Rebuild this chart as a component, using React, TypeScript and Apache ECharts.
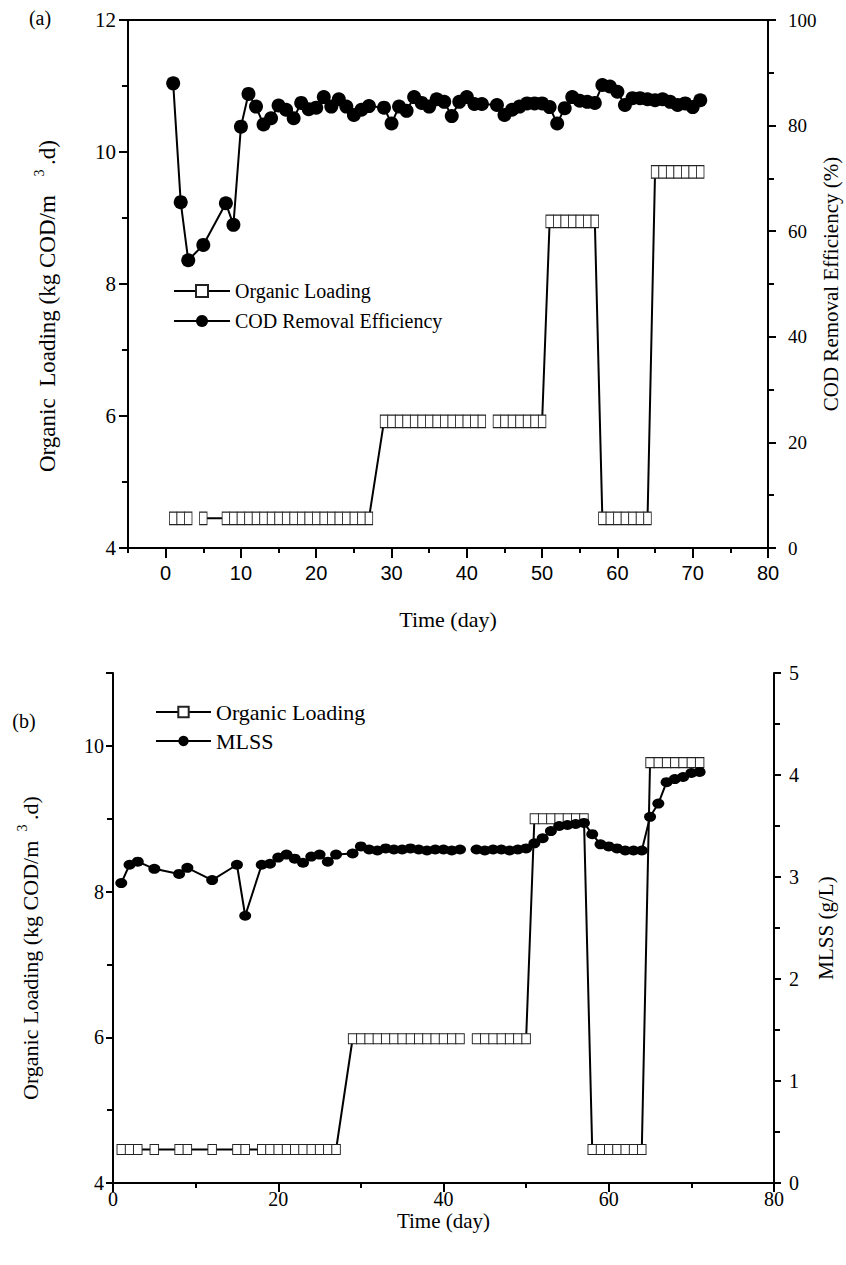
import React, { useEffect, useRef } from 'react';
import * as echarts from 'echarts';

const serif = "'Liberation Serif', 'Times New Roman', serif";
const sans = "'Liberation Sans', Arial, sans-serif";

// ---------- Panel (a) ----------
const loadDaysA = [1, 2, 3, 4, 5, 8, 9, 10, 11, 12, 13, 14, 15, 16, 17, 18, 19, 20, 21, 22, 23, 24, 25, 26, 27,
  29, 30, 31, 32, 33, 34, 35, 36, 37, 38, 39, 40, 41, 42, 43, 44, 45, 46, 47, 48, 49, 50,
  51, 52, 53, 54, 55, 56, 57, 58, 59, 60, 61, 62, 63, 64, 65, 66, 67, 68, 69, 70, 71];
const loadA: (number | null)[] = [4.45, 4.45, 4.45, null, 4.45,
  4.45, 4.45, 4.45, 4.45, 4.45, 4.45, 4.45, 4.45, 4.45, 4.45, 4.45, 4.45, 4.45, 4.45, 4.45, 4.45, 4.45, 4.45, 4.45, 4.45,
  5.92, 5.92, 5.92, 5.92, 5.92, 5.92, 5.92, 5.92, 5.92, 5.92, 5.92, 5.92, 5.92, 5.92, null,
  5.92, 5.92, 5.92, 5.92, 5.92, 5.92, 5.92,
  8.95, 8.95, 8.95, 8.95, 8.95, 8.95, 8.95,
  4.45, 4.45, 4.45, 4.45, 4.45, 4.45, 4.45,
  9.7, 9.7, 9.7, 9.7, 9.7, 9.7, 9.7];

const codDays = [1, 2, 3, 5, 8, 9, 10, 11, 12, 13, 14, 15, 16, 17, 18, 19, 20, 21, 22, 23, 24, 25, 26, 27,
  29, 30, 31, 32, 33, 34, 35, 36, 37, 38, 39, 40, 41, 42,
  44, 45, 46, 47, 48, 49, 50, 51, 52, 53, 54, 55, 56, 57, 58, 59, 60, 61, 62, 63, 64, 65, 66, 67, 68, 69, 70, 71];
const codA = [88.0, 65.5, 54.5, 57.4, 65.3, 61.2,
  79.8, 86.0, 83.6, 80.2, 81.4, 83.8, 83.0, 81.4, 84.3, 83.1, 83.4, 85.4, 83.6, 85.0, 83.6, 82.0, 83.0, 83.7,
  83.4, 80.4, 83.6, 82.8, 85.4, 84.3, 83.6, 85.0, 84.5, 81.8, 84.5, 85.4, 84.1, 84.1,
  83.9, 82.0, 83.0, 83.6, 84.2, 84.2, 84.2,
  83.5, 80.4, 83.3, 85.4, 84.7, 84.5, 84.3,
  87.7, 87.4, 86.4, 83.9, 85.2, 85.2, 85.0,
  84.8, 85.0, 84.5, 83.9, 84.2, 83.5, 84.8];

const xMajorA = [0, 10, 20, 30, 40, 50, 60, 70, 80];

// ---------- Panel (b) ----------
const daysB = [1, 2, 3, 5, 8, 9, 12, 15, 16, 18, 19, 20, 21, 22, 23, 24, 25, 26, 27,
  29, 30, 31, 32, 33, 34, 35, 36, 37, 38, 39, 40, 41, 42, 43,
  44, 45, 46, 47, 48, 49, 50, 51, 52, 53, 54, 55, 56, 57, 58, 59, 60, 61, 62, 63, 64, 65, 66, 67, 68, 69, 70, 71];
const loadB: (number | null)[] = [4.46, 4.46, 4.46, 4.46, 4.46, 4.46, 4.46, 4.46, 4.46,
  4.46, 4.46, 4.46, 4.46, 4.46, 4.46, 4.46, 4.46, 4.46, 4.46,
  5.98, 5.98, 5.98, 5.98, 5.98, 5.98, 5.98, 5.98, 5.98, 5.98, 5.98, 5.98, 5.98, 5.98, null,
  5.98, 5.98, 5.98, 5.98, 5.98, 5.98, 5.98,
  9.0, 9.0, 9.0, 9.0, 9.0, 9.0, 9.0,
  4.46, 4.46, 4.46, 4.46, 4.46, 4.46, 4.46,
  9.77, 9.77, 9.77, 9.77, 9.77, 9.77, 9.77];
const mlssB: (number | null)[] = [2.94, 3.12, 3.15, 3.08, 3.03, 3.09, 2.97, 3.12, 2.62,
  3.12, 3.13, 3.19, 3.22, 3.18, 3.14, 3.2, 3.22, 3.15, 3.22,
  3.23, 3.3, 3.27, 3.26, 3.28, 3.27, 3.27, 3.28, 3.27, 3.26, 3.27, 3.27, 3.26, 3.27, null,
  3.27, 3.26, 3.27, 3.27, 3.26, 3.27, 3.28,
  3.33, 3.38, 3.45, 3.5, 3.51, 3.52, 3.53,
  3.42, 3.32, 3.3, 3.28, 3.26, 3.26, 3.26,
  3.59, 3.72, 3.93, 3.96, 3.98, 4.02, 4.03];

const pairs = (xs: number[], ys: (number | null)[]) =>
  xs.map((x, i) => [x, ys[i] === null ? '-' : ys[i]]);

const legendName = (n: string) =>
  n.startsWith('Organic Loading') ? 'Organic Loading' : n;

const black = '#000';
const axisLine = { show: true, onZero: false, lineStyle: { color: black, width: 2 } };

const txt = (text: string, x: number, y: number, size: number, align: string) => ({
  type: 'text', x, y,
  style: {
    text, fill: black, font: `${size}px ${serif}`,
    align, verticalAlign: 'middle', textAlign: align, textVerticalAlign: 'middle',
  },
});

// rotated title (reads bottom-to-top) built in a group: local x = reading direction, local -y = glyph "up"
const loadTitle = (x: number, y: number, part1: string, size: number, w1: number) => ({
  type: 'group', x, y, rotation: Math.PI / 2,
  children: [
    txt(part1, 0, 0, size, 'left'),
    txt('3', w1 + 22, -8, Math.round(size * 0.62), 'center'),
    txt('.d)', w1 + 30, 0, size, 'left'),
  ],
});

export default function App() {
  const ref = useRef<HTMLDivElement>(null);
  useEffect(() => {
    if (!ref.current) return;
    const chart = echarts.init(ref.current, null, { renderer: 'svg' });
    const option: any = {
      animation: false,
      backgroundColor: '#fff',
      grid: [
        { left: 128, right: 78, top: 20, height: 528, show: true, borderColor: black, borderWidth: 2, backgroundColor: 'transparent' },
        { left: 113, right: 72, top: 673, height: 510 },
      ],
      xAxis: [
        {
          gridIndex: 0, type: 'value', min: -5, max: 80, interval: 5, position: 'bottom',
          axisLine,
          axisTick: { show: true, length: 5, lineStyle: { color: black, width: 2 } },
          axisLabel: {
            color: black, fontFamily: sans, fontSize: 20, margin: 15,
            formatter: (v: number) => (xMajorA.includes(v) ? String(v) : ''),
          },
          splitLine: { show: false },
          name: 'Time (day)', nameLocation: 'middle', nameGap: 60,
          nameTextStyle: { color: black, fontFamily: serif, fontSize: 22 },
        },
        {
          gridIndex: 0, type: 'value', min: -5, max: 80, interval: 5, position: 'bottom',
          axisLine: { show: false, onZero: false },
          axisTick: { show: true, length: 10, customValues: xMajorA, lineStyle: { color: black, width: 2 } },
          axisLabel: { show: false },
          splitLine: { show: false },
        },
        {
          gridIndex: 1, type: 'value', min: 0, max: 80, interval: 20,
          axisLine,
          axisTick: { show: true, length: 9, lineStyle: { color: black, width: 2 } },
          minorTick: { show: true, splitNumber: 2, length: 5, lineStyle: { color: black, width: 2 } },
          axisLabel: { color: black, fontFamily: serif, fontSize: 20, margin: 6 },
          splitLine: { show: false },
          name: 'Time (day)', nameLocation: 'middle', nameGap: 27,
          nameTextStyle: { color: black, fontFamily: serif, fontSize: 21 },
        },
      ],
      yAxis: [
        {
          gridIndex: 0, type: 'value', min: 4, max: 12, interval: 2, position: 'left',
          axisLine,
          axisTick: { show: true, length: 9, lineStyle: { color: black, width: 2 } },
          minorTick: { show: true, splitNumber: 2, length: 6, lineStyle: { color: black, width: 2 } },
          axisLabel: { color: black, fontFamily: serif, fontSize: 21, margin: 12 },
          splitLine: { show: false },
        },
        {
          gridIndex: 0, type: 'value', min: 0, max: 100, interval: 20, position: 'right',
          axisLine,
          axisTick: { show: true, length: 8, lineStyle: { color: black, width: 2 } },
          minorTick: { show: true, splitNumber: 2, length: 6, lineStyle: { color: black, width: 2 } },
          axisLabel: { color: black, fontFamily: serif, fontSize: 19, margin: 20 },
          splitLine: { show: false },
        },
        {
          gridIndex: 1, type: 'value', min: 4, max: 11, interval: 2, position: 'left',
          axisLine,
          axisTick: { show: true, length: 7, lineStyle: { color: black, width: 2 } },
          minorTick: { show: true, splitNumber: 2, length: 6, lineStyle: { color: black, width: 2 } },
          axisLabel: { color: black, fontFamily: serif, fontSize: 20, margin: 9, showMaxLabel: false },
          splitLine: { show: false },
        },
        {
          gridIndex: 1, type: 'value', min: 0, max: 5, interval: 1, position: 'right',
          axisLine,
          axisTick: { show: true, length: 7, lineStyle: { color: black, width: 2 } },
          minorTick: { show: true, splitNumber: 2, length: 6, lineStyle: { color: black, width: 2 } },
          axisLabel: { color: black, fontFamily: serif, fontSize: 20, margin: 15 },
          splitLine: { show: false },
        },
      ],
      legend: [
        {
          data: ['Organic Loading (a)', 'COD Removal Efficiency'],
          orient: 'vertical', left: 168, top: 276, itemWidth: 56, itemHeight: 15, itemGap: 10,
          selectedMode: false, formatter: legendName,
          textStyle: { color: black, fontFamily: serif, fontSize: 20 },
        },
        {
          data: ['Organic Loading (b)', 'MLSS'],
          orient: 'vertical', left: 150, top: 696, itemWidth: 55, itemHeight: 13, itemGap: 7,
          selectedMode: false, formatter: legendName,
          textStyle: { color: black, fontFamily: serif, fontSize: 22 },
        },
      ],
      graphic: [
        txt('(a)', 40, 18, 20, 'center'),
        txt('(b)', 24, 721, 20, 'center'),
        loadTitle(47, 472, 'Organic  Loading (kg COD/m', 23, 277),
        { ...txt('COD Removal Efficiency (%)', 831, 284, 21, 'center'), rotation: Math.PI / 2 },
        loadTitle(30, 1100, 'Organic Loading (kg COD/m', 22, 250),
        { ...txt('MLSS (g/L)', 826, 928, 21, 'center'), rotation: Math.PI / 2 },
      ],
      series: [
        {
          name: 'Organic Loading (a)', type: 'line', xAxisIndex: 0, yAxisIndex: 0,
          data: pairs(loadDaysA, loadA), connectNulls: false, showAllSymbol: true,
          symbol: 'rect', symbolSize: [7.5, 12.5],
          itemStyle: { color: '#fff', borderColor: '#222', borderWidth: 1 },
          lineStyle: { color: black, width: 2 }, z: 2,
        },
        {
          name: 'COD Removal Efficiency', type: 'line', xAxisIndex: 0, yAxisIndex: 1,
          data: pairs(codDays, codA), showAllSymbol: true,
          symbol: 'circle', symbolSize: 14,
          itemStyle: { color: black },
          lineStyle: { color: black, width: 2 }, z: 3,
        },
        {
          name: 'Organic Loading (b)', type: 'line', xAxisIndex: 2, yAxisIndex: 2,
          data: pairs(daysB, loadB), connectNulls: false, showAllSymbol: true,
          symbol: 'rect', symbolSize: [8.5, 10],
          itemStyle: { color: '#fff', borderColor: '#222', borderWidth: 1 },
          lineStyle: { color: black, width: 2 }, z: 2,
        },
        {
          name: 'MLSS', type: 'line', xAxisIndex: 2, yAxisIndex: 3,
          data: pairs(daysB, mlssB), connectNulls: false, showAllSymbol: true,
          symbol: 'circle', symbolSize: [12, 10],
          itemStyle: { color: black },
          lineStyle: { color: black, width: 2 }, z: 3,
        },
      ],
    };
    chart.setOption(option);
    return () => chart.dispose();
  }, []);
  return (
    <div
      ref={ref}
      style={{ position: 'absolute', left: 0, top: 0, width: 846, height: 1265, background: '#fff' }}
    />
  );
}
